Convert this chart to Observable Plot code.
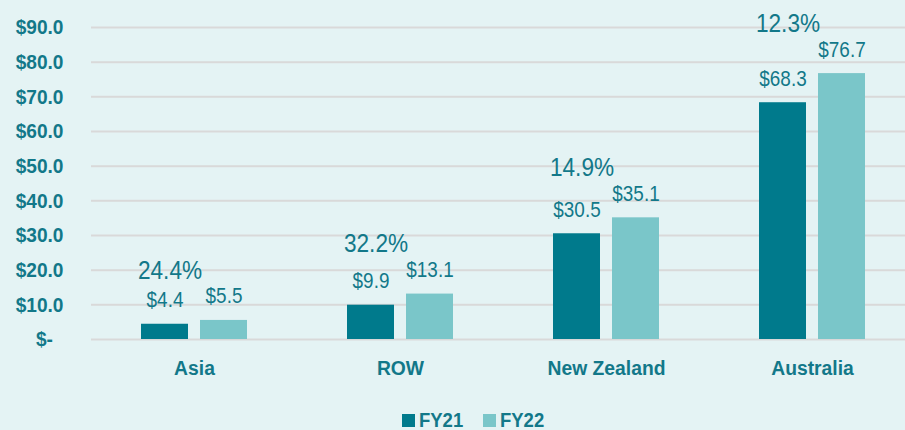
<!DOCTYPE html>
<html>
<head>
<meta charset="utf-8">
<script src="https://cdn.jsdelivr.net/npm/d3@7"></script>
<script src="https://cdn.jsdelivr.net/npm/@observablehq/plot@0.6"></script>
<style>
  html, body { margin: 0; padding: 0; background: #e4f3f4; width: 905px; height: 430px; overflow: hidden; }
  #chart svg { display: block; background: #e4f3f4; }
  .legend { height: 30px; display: flex; justify-content: center; align-items: center; padding-left: 40px;
    font: bold 21px "Liberation Sans", Arial, sans-serif; color: #127889; }
  .legend .item { display: flex; align-items: center; margin: 0 10px; }
  .legend .sw { width: 13px; height: 13px; margin-right: 4px; }
  .legend .lab { display: inline-block; transform: scaleX(0.88); transform-origin: left center; width: 44px; }
</style>
</head>
<body>
<div id="chart"></div>
<script>
const categories = ["Asia", "ROW", "New Zealand", "Australia"];
const series = ["FY21", "FY22"];
const fy21 = [4.4, 9.9, 30.5, 68.3];
const fy22 = [5.5, 13.1, 35.1, 76.7];
const growth = ["24.4%", "32.2%", "14.9%", "12.3%"];
const yTicks = [0, 10, 20, 30, 40, 50, 60, 70, 80, 90];
const colors = ["#007a8c", "#7ac6c9"];

const bars = categories.flatMap((c, i) => [
  {category: c, series: "FY21", value: fy21[i]},
  {category: c, series: "FY22", value: fy22[i]}
]);
const growthRows = categories.map((c, i) => ({category: c, series: "FY21", top: fy22[i], label: growth[i]}));

const textColor = "#127889";
const font = "'Liberation Sans', Arial, sans-serif";

const chart = Plot.plot({
  width: 905,
  height: 405,
  marginLeft: 90,
  marginRight: 0,
  marginTop: 27,
  marginBottom: 66,
  style: {background: "#e4f3f4", color: textColor, fontFamily: font},
  fx: {domain: categories, range: [90, 916], padding: 0, axis: "bottom", label: null, tickSize: 0, tickPadding: 21},
  x: {domain: series, paddingInner: 0.211, paddingOuter: 0.85, axis: null},
  y: {domain: [0, 90], ticks: yTicks, tickSize: 0, tickPadding: 28, label: null,
      tickFormat: d => d === 0 ? "$-\u00a0\u00a0" : "$" + d.toFixed(1)},
  color: {domain: series, range: colors},
  marks: [
    Plot.ruleY(yTicks, {stroke: "#d9d9d9", strokeWidth: 2}),
    Plot.barY(bars, {fx: "category", x: "series", y: "value", fill: "series"}),
    Plot.text(bars, {fx: "category", x: "series", y: "value", text: d => "$" + d.value.toFixed(1),
      dy: -24, fontSize: 22, fill: textColor, className: "vlab"}),
    Plot.text(growthRows, {fx: "category", x: "series", y: "top", text: "label",
      dx: 5, dy: -50, fontSize: 26, fill: textColor, className: "plab"})
  ]
});

const sel = d3.select(chart);
sel.selectAll("g[aria-label='y-axis tick label'], g[aria-label='fx-axis tick label']")
  .attr("font-weight", "bold").attr("font-size", 21).attr("fill", textColor);

// condense text horizontally around its anchor point (narrow-font look)
function condense(nodes, sx) {
  nodes.each(function() {
    const t = d3.select(this);
    let tr = t.attr("transform") || "";
    const xa = t.attr("x"), ya = t.attr("y");
    if (xa != null && !/em$/.test(xa)) { tr += ` translate(${+xa},0)`; t.attr("x", null); }
    if (ya != null && !/em$/.test(ya)) { tr += ` translate(0,${+ya})`; t.attr("y", null); }
    t.attr("transform", `${tr} scale(${sx},1)`);
  });
}
condense(sel.selectAll("g[aria-label='y-axis tick label'] text"), 0.91);
condense(sel.selectAll("g[aria-label='fx-axis tick label'] text"), 0.92);
condense(sel.selectAll(".vlab text"), 0.86);
condense(sel.selectAll(".plab text"), 0.87);

document.getElementById("chart").appendChild(chart);

const legend = document.createElement("div");
legend.className = "legend";
series.forEach((s, i) => {
  const item = document.createElement("div");
  item.className = "item";
  const sw = document.createElement("span");
  sw.className = "sw";
  sw.style.background = colors[i];
  const t = document.createElement("span");
  t.className = "lab";
  t.textContent = s;
  item.appendChild(sw);
  item.appendChild(t);
  legend.appendChild(item);
});
document.body.appendChild(legend);
</script>
</body>
</html>
